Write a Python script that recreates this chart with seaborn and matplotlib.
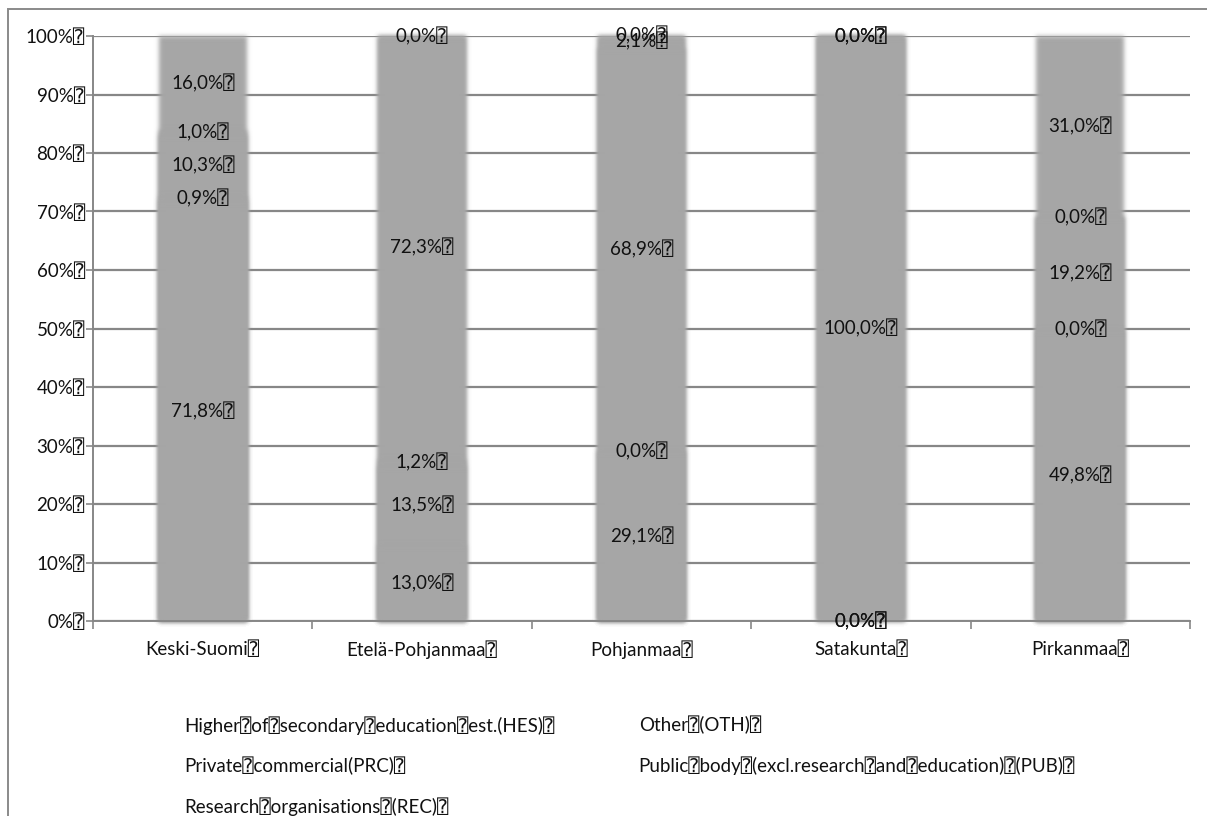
import numpy as np
import pandas as pd
import matplotlib
matplotlib.use("Agg")
import matplotlib.pyplot as plt
import seaborn as sns
from matplotlib.patches import Rectangle

BOX = "\u2370"

regions = ["Keski-Suomi", "Etelä-Pohjanmaa", "Pohjanmaa", "Satakunta", "Pirkanmaa"]
series = ["HES", "OTH", "PRC", "PUB", "REC"]
series_names = [
    "Higher of secondary education est.(HES)",
    "Other (OTH)",
    "Private commercial(PRC)",
    "Public body (excl.research and education) (PUB)",
    "Research organisations (REC)",
]
# shares in percent, one list per organisation type (stacked bottom to top)
hes = [71.8, 13.0, 29.1, 0.0, 49.8]
oth = [0.9, 13.5, 0.0, 0.0, 0.0]
prc = [10.3, 1.2, 68.9, 100.0, 19.2]
pub = [1.0, 72.3, 2.1, 0.0, 0.0]
rec = [16.0, 0.0, 0.0, 0.0, 31.0]
yticks = [0, 10, 20, 30, 40, 50, 60, 70, 80, 90, 100]

sns.set_theme(style="white")
plt.rcParams["font.family"] = ["Lato", "DejaVu Sans", "DejaVu Sans Mono"]

values = np.array([hes, oth, prc, pub, rec])
cum = np.cumsum(values, axis=0)

BAR = "#a6a6a6"
GRID = "#878787"
FS = 13.5


def soft_edges(sigma_px):
    """agg filter: gaussian blur of a patch (premultiplied alpha)."""
    r = int(3 * sigma_px) + 1
    k = np.exp(-0.5 * (np.arange(-r, r + 1) / sigma_px) ** 2)
    k /= k.sum()

    def blur(a):
        a = np.apply_along_axis(lambda m: np.convolve(m, k, mode="same"), 0, a)
        a = np.apply_along_axis(lambda m: np.convolve(m, k, mode="same"), 1, a)
        return a

    def f(im, dpi):
        pad = r
        im = np.pad(im, ((pad, pad), (pad, pad), (0, 0)))
        a = im[..., 3]
        out = np.zeros_like(im)
        ab = blur(a)
        for c in range(3):
            out[..., c] = blur(im[..., c] * a)
        nz = ab > 1e-4
        for c in range(3):
            ch = out[..., c]
            ch[nz] = ch[nz] / ab[nz]
            out[..., c] = np.clip(ch, 0, 1)
        out[..., 3] = np.clip(ab, 0, 1)
        return out, -pad, -pad

    return f


fig = plt.figure(figsize=(12.07, 8.16), dpi=100)
ax = fig.add_axes([93 / 1207, 1 - 621 / 816, (1190 - 93) / 1207, (621 - 36) / 816])

# stacked bars: draw cumulative totals from the top layer downwards
for i in range(len(series) - 1, -1, -1):
    df = pd.DataFrame({"region": regions, "value": cum[i]})
    sns.barplot(data=df, x="region", y="value", color=BAR, saturation=1,
                width=0.4, ax=ax, errorbar=None, linewidth=0)
blur = soft_edges(2.2)
for p in ax.patches:
    p.set_agg_filter(blur)

# segment value labels
for i in range(len(series)):
    for j in range(len(regions)):
        v = values[i, j]
        yc = cum[i, j] - v / 2
        ax.text(j, yc, f"{v:.1f}".replace(".", ",") + "%" + BOX,
                ha="center", va="center", fontsize=FS, color="#111111", zorder=5)

ax.set_ylim(0, 100)
ax.set_xlim(-0.5, len(regions) - 0.5)
ax.set_yticks(yticks)
ax.set_yticklabels([f"{t}%" + BOX for t in yticks])
ax.set_xticks(range(len(regions)))
ax.set_xticklabels([r + BOX for r in regions])
ax.set_xticks(np.arange(-0.5, len(regions)), minor=True)
ax.set_xlabel("")
ax.set_ylabel("")

ax.yaxis.grid(True, color=GRID, linewidth=1.6)
for gl in ax.get_ygridlines():
    gl.set_zorder(3)
ax.tick_params(axis="y", which="major", left=True, length=5, width=1.2, color=GRID,
               labelsize=FS, pad=1, labelcolor="#111111")
ax.tick_params(axis="x", which="major", bottom=False, length=0, pad=14,
               labelsize=FS, labelcolor="#111111")
ax.tick_params(axis="x", which="minor", bottom=True, length=6, width=1.2, color=GRID)
for side in ["top", "right"]:
    ax.spines[side].set_visible(False)
for side in ["left", "bottom"]:
    ax.spines[side].set_color(GRID)
    ax.spines[side].set_linewidth(1.4)
    ax.spines[side].set_zorder(4)

# legend: text-only entries, two columns
order = [0, 2, 4, 1, 3]
proxies = [Rectangle((0, 0), 0, 0, visible=False) for _ in series]
leg = fig.legend([proxies[k] for k in order],
                 [series_names[k].replace(" ", BOX) + BOX for k in order],
                 ncol=2, loc="upper left", bbox_to_anchor=(184 / 1207, 1 - 716 / 816),
                 frameon=False, handlelength=0, handletextpad=0, fontsize=FS,
                 labelspacing=1.17, columnspacing=4.5, borderaxespad=0, borderpad=0)
for t in leg.get_texts():
    t.set_color("#111111")

# outer chart frame
fig.patches.append(Rectangle((8 / 1207, -0.05), 1.1, 1 - 8.5 / 816 + 0.05,
                             transform=fig.transFigure, fill=False,
                             edgecolor="#8a8a8a", linewidth=1.4))

fig.savefig("out.png", dpi=100)
